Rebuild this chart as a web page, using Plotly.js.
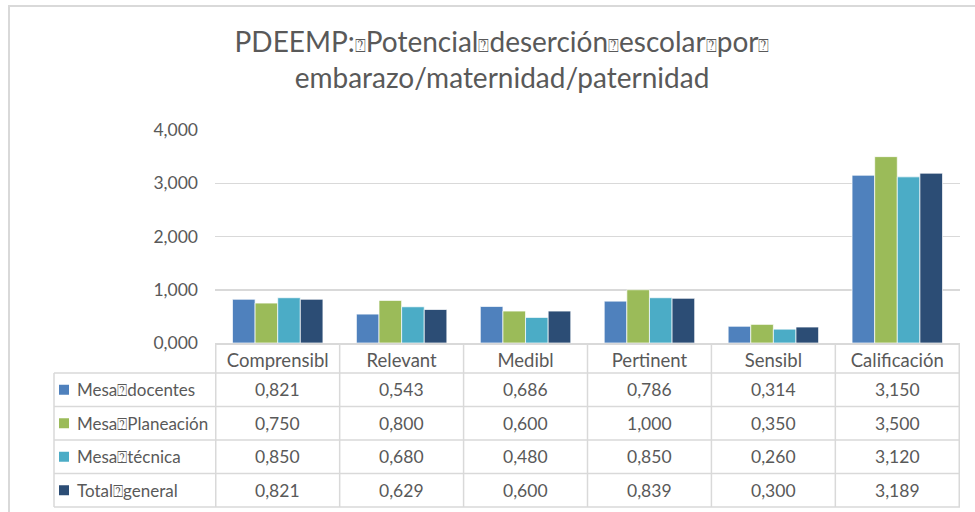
<!DOCTYPE html>
<html>
<head>
<meta charset="utf-8">
<script src="https://cdn.plot.ly/plotly-3.0.1.min.js"></script>
<style>
  html, body { margin: 0; padding: 0; background: #fff; }
  #chart { width: 975px; height: 512px; }
</style>
</head>
<body>
<div id="chart"></div>
<script>
  const categories = ["Comprensibl", "Relevant", "Medibl", "Pertinent", "Sensibl", "Calificación"];
  const seriesNames = ["Mesa\u2370docentes", "Mesa\u2370Planeación", "Mesa\u2370técnica", "Total\u2370general"];
  const mesaDocentes = [0.821, 0.543, 0.686, 0.786, 0.314, 3.150];
  const mesaPlaneacion = [0.750, 0.800, 0.600, 1.000, 0.350, 3.500];
  const mesaTecnica = [0.850, 0.680, 0.480, 0.850, 0.260, 3.120];
  const totalGeneral = [0.821, 0.629, 0.600, 0.839, 0.300, 3.189];
  const yTicks = [0, 1, 2, 3, 4];
  const titleWords = ["PDEEMP:", "Potencial", "deserción", "escolar", "por", ""];
  const titleLine2 = "embarazo/maternidad/paternidad";

  const seriesValues = [mesaDocentes, mesaPlaneacion, mesaTecnica, totalGeneral];
  const colors = ["#4f81bd", "#9bbb59", "#4bacc6", "#2c4d75"];

  const FONT = "Lato, 'Open Sans', sans-serif";
  const TEXT = "#595959";
  const GRID = "#d9d9d9";

  // the original title shows a missing-glyph box where the spaces were
  const box = '<span style="font-size:18px">\u2370</span>';
  const titleText = titleWords.join(box) + "<br>" + titleLine2;

  // page geometry (px)
  const W = 975, H = 512;
  const M = { l: 215, r: 15, t: 130, b: 169 };
  const plotW = W - M.l - M.r;
  const plotH = H - M.t - M.b;
  const px2x = (px) => (px - M.l) / plotW;
  const py2y = (py) => (H - M.b - py) / plotH;

  const axisY = H - M.b;
  const headerBottom = axisY + 30;
  const rowH = 33.5;
  const tableLeft = 54;

  const fmt = (v) => v.toFixed(3).replace(".", ",");

  const traces = seriesValues.map((vals, i) => ({
    type: "bar",
    name: seriesNames[i],
    x: categories,
    y: vals,
    marker: { color: colors[i], line: { color: "rgba(255,255,255,0.7)", width: 1 } },
    hoverinfo: "skip",
  }));

  const shapes = [];
  const annotations = [];

  // outer chart-area border
  shapes.push({
    type: "rect", xref: "paper", yref: "paper",
    x0: px2x(9), x1: px2x(990), y0: py2y(6), y1: py2y(530),
    line: { color: GRID, width: 2 }, layer: "below",
  });

  // table verticals on the category boundaries
  for (let i = 0; i <= categories.length; i += 1) {
    shapes.push({
      type: "line", xref: "x", yref: "paper",
      x0: i - 0.5, x1: i - 0.5, y0: py2y(axisY), y1: py2y(headerBottom + rowH * seriesNames.length),
      line: { color: GRID, width: 1.5 },
    });
  }
  // legend column left edge
  shapes.push({
    type: "line", xref: "paper", yref: "paper",
    x0: px2x(tableLeft), x1: px2x(tableLeft),
    y0: py2y(headerBottom), y1: py2y(headerBottom + rowH * seriesNames.length),
    line: { color: GRID, width: 1.5 },
  });
  // table horizontals
  for (let r = 0; r <= seriesNames.length; r += 1) {
    shapes.push({
      type: "line", xref: "paper", yref: "paper",
      x0: px2x(tableLeft), x1: 1,
      y0: py2y(headerBottom + rowH * r), y1: py2y(headerBottom + rowH * r),
      line: { color: GRID, width: 1.5 },
    });
  }

  seriesNames.forEach((name, r) => {
    const cy = headerBottom + rowH * r + rowH / 2;
    shapes.push({
      type: "rect", xref: "paper", yref: "paper",
      x0: px2x(59), x1: px2x(69), y0: py2y(cy - 5), y1: py2y(cy + 5),
      fillcolor: colors[r], line: { width: 0 },
    });
    annotations.push({
      xref: "paper", yref: "paper", x: px2x(75), y: py2y(cy),
      xanchor: "left", yanchor: "middle", showarrow: false,
      text: name, font: { family: FONT, size: 17, color: TEXT },
    });
    seriesValues[r].forEach((v, c) => {
      annotations.push({
        xref: "x", yref: "paper", x: categories[c], y: py2y(cy),
        xanchor: "center", yanchor: "middle", showarrow: false,
        text: fmt(v), font: { family: FONT, size: 17.5, color: TEXT },
      });
    });
  });

  const layout = {
    width: W,
    height: H,
    margin: M,
    paper_bgcolor: "#fff",
    plot_bgcolor: "#fff",
    separators: ",.",
    showlegend: false,
    barmode: "group",
    bargap: 0.27,
    bargroupgap: 0,
    font: { family: FONT, color: TEXT },
    title: {
      text: titleText,
      x: 502 / W,
      xanchor: "center",
      y: 1 - 52 / H,
      yanchor: "top",
      font: { family: FONT, size: 28, color: TEXT },
    },
    xaxis: {
      type: "category",
      showline: true,
      linecolor: GRID,
      linewidth: 1.5,
      showgrid: false,
      ticks: "",
      ticklabelstandoff: 0,
      tickfont: { family: FONT, size: 18.5, color: TEXT },
      fixedrange: true,
    },
    yaxis: {
      range: [0, 4],
      tickvals: yTicks,
      tickformat: ".3f",
      showgrid: true,
      gridcolor: GRID,
      gridwidth: 1.5,
      zeroline: false,
      showline: false,
      ticks: "",
      ticklabelstandoff: 16,
      tickfont: { family: FONT, size: 17.5, color: TEXT },
      fixedrange: true,
    },
    shapes,
    annotations,
  };

  Plotly.newPlot("chart", traces, layout, { displayModeBar: false, staticPlot: true });
</script>
</body>
</html>
